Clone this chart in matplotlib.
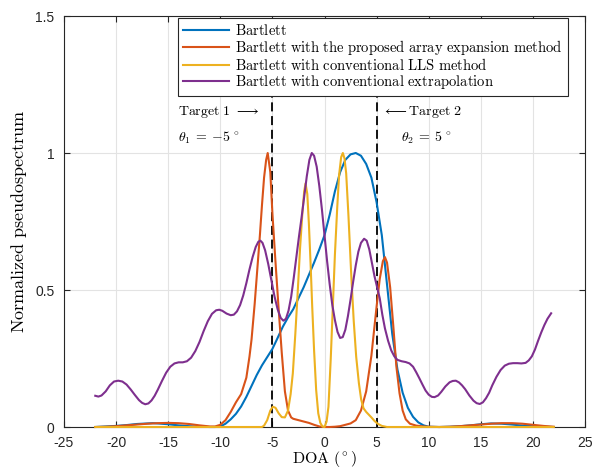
import numpy as np
import matplotlib
matplotlib.use("Agg")
import matplotlib.pyplot as plt

# values (DOA in degrees, normalized level)
blue_x = [-22, -21, -20, -19, -18, -17, -16.5, -16, -15, -14, -13, -12, -11, -10.5, -10, -9.5, -9, -8.5, -8,
          -7.5, -7, -6.5, -6, -5.5, -5, -4.5, -4, -3.5, -3, -2.5, -2, -1.5, -1, -0.5, 0, 0.5, 1, 1.5, 2, 2.5,
          3, 3.5, 4, 4.5, 5, 5.5, 6, 6.5, 7, 7.5, 8, 8.5, 9, 9.5, 10, 11, 12, 13, 14, 15, 16, 17, 18, 19,
          20, 21, 22]
blue_y = [0.0, 0.002, 0.004, 0.007, 0.011, 0.013, 0.014, 0.013, 0.01, 0.006, 0.003, 0.001, 0.0, 0.0, 0.002,
          0.012, 0.028, 0.048, 0.075, 0.11, 0.15, 0.19, 0.225, 0.255, 0.285, 0.325, 0.366, 0.40, 0.43, 0.47,
          0.51, 0.555, 0.60, 0.648, 0.70, 0.775, 0.86, 0.93, 0.975, 0.995, 1.0, 0.99, 0.96, 0.91, 0.82, 0.70,
          0.52, 0.34, 0.21, 0.125, 0.07, 0.037, 0.017, 0.006, 0.001, 0.0, 0.001, 0.003, 0.006, 0.01, 0.013,
          0.012, 0.009, 0.005, 0.003, 0.001, 0.0]

orange_x = [-22, -21, -20, -19, -18, -17, -16, -15, -14, -13, -12, -11, -10.5, -10, -9.5, -9, -8.5, -8, -7.5,
            -7.2, -7.0, -6.7, -6.4, -6.2, -6.0, -5.8, -5.6, -5.45, -5.2, -5.0, -4.7, -4.4, -4.1, -3.8, -3.5,
            -3.2, -3.0, -2.5, -2, -1.5, -1, -0.5, 0, 0.5, 1, 1.5, 2, 2.5, 3, 3.5, 4, 4.5, 5, 5.3, 5.6, 5.8,
            6.0, 6.3, 6.6, 6.9, 7.2, 7.5, 7.8, 8.2, 8.8, 9.5, 10, 11, 12, 13, 14, 15, 16, 17, 18, 19, 20, 21, 22]
orange_y = [0.0, 0.001, 0.003, 0.006, 0.009, 0.012, 0.014, 0.015, 0.014, 0.011, 0.006, 0.002, 0.002, 0.008,
            0.025, 0.055, 0.09, 0.12, 0.18, 0.257, 0.32, 0.45, 0.60, 0.70, 0.81, 0.91, 0.975, 1.0, 0.93, 0.78,
            0.60, 0.43, 0.27, 0.13, 0.06, 0.035, 0.03, 0.025, 0.02, 0.015, 0.008, 0.002, 0.0, 0.0, 0.001, 0.003,
            0.008, 0.013, 0.025, 0.06, 0.13, 0.26, 0.44, 0.54, 0.605, 0.62, 0.60, 0.51, 0.37, 0.22, 0.123,
            0.06, 0.028, 0.012, 0.005, 0.002, 0.001, 0.0, 0.001, 0.003, 0.006, 0.009, 0.012, 0.014, 0.014,
            0.012, 0.008, 0.004, 0.001]

yellow_x = [-22, -6, -5.8, -5.5, -5.2, -4.96, -4.7, -4.4, -4.1, -3.8, -3.5, -3.25, -3.04, -2.8, -2.56, -2.35,
            -2.14, -1.95, -1.82, -1.65, -1.5, -1.34, -1.18, -1.0, -0.8, -0.6, -0.4, -0.2, 0, 0.2, 0.38, 0.6,
            0.8, 1.0, 1.22, 1.4, 1.6, 1.76, 1.92, 2.08, 2.3, 2.56, 2.8, 3.04, 3.3, 3.52, 3.75, 4.0, 4.25, 4.5,
            4.8, 5.1, 5.5, 6, 22]
yellow_y = [0.0, 0.0, 0.005, 0.025, 0.06, 0.074, 0.07, 0.05, 0.036, 0.035, 0.06, 0.12, 0.196, 0.34, 0.5, 0.65,
            0.77, 0.86, 0.889, 0.85, 0.743, 0.6, 0.44, 0.28, 0.135, 0.05, 0.015, 0.002, 0.0, 0.02, 0.074, 0.25,
            0.44, 0.63, 0.80, 0.92, 0.985, 1.0, 0.98, 0.926, 0.77, 0.56, 0.39, 0.257, 0.16, 0.1, 0.068, 0.055,
            0.045, 0.035, 0.022, 0.012, 0.004, 0.0, 0.0]

purple_x = [-22, -21.7, -21.4, -21.0, -20.6, -20.2, -19.8, -19.4, -19.0, -18.6, -18.2, -17.8, -17.5, -17.2,
            -16.9, -16.6, -16.3, -16.0, -15.6, -15.2, -14.8, -14.4, -14.0, -13.6, -13.2, -12.8, -12.4, -12.0,
            -11.6, -11.2, -10.8, -10.4, -10.1, -9.8, -9.4, -9.0, -8.7, -8.4, -8.1, -7.8, -7.5, -7.2, -6.9,
            -6.6, -6.35, -6.15, -5.95, -5.7, -5.4, -5.1, -4.8, -4.5, -4.2, -3.95, -3.7, -3.45, -3.2, -2.95,
            -2.7, -2.45, -2.2, -1.95, -1.7, -1.45, -1.22, -1.0, -0.75, -0.5, -0.25, 0.0, 0.25, 0.5, 0.75, 1.0,
            1.25, 1.5, 1.75, 2.0, 2.25, 2.5, 2.75, 3.0, 3.25, 3.5, 3.8, 4.05, 4.3, 4.55, 4.8, 5.05, 5.3, 5.55,
            5.8, 6.1, 6.4, 6.7, 7.0, 7.4, 7.8, 8.16, 8.5, 8.8, 9.1, 9.4, 9.7, 10.0, 10.3, 10.56, 10.9, 11.2,
            11.6, 12.0, 12.3, 12.6, 12.9, 13.2, 13.5, 13.9, 14.3, 14.6, 14.9, 15.2, 15.5, 15.8, 16.1, 16.5,
            16.9, 17.3, 17.7, 18.1, 18.5, 18.9, 19.3, 19.6, 19.9, 20.2, 20.5, 20.8, 21.1, 21.4, 21.75]
purple_y = [0.114, 0.111, 0.115, 0.13, 0.152, 0.166, 0.169, 0.166, 0.155, 0.137, 0.117, 0.098, 0.088, 0.083,
            0.086, 0.097, 0.114, 0.136, 0.168, 0.198, 0.22, 0.232, 0.236, 0.236, 0.24, 0.253, 0.277, 0.31,
            0.35, 0.386, 0.413, 0.426, 0.428, 0.424, 0.414, 0.408, 0.41, 0.422, 0.445, 0.48, 0.525, 0.575,
            0.62, 0.657, 0.676, 0.68, 0.672, 0.645, 0.595, 0.535, 0.477, 0.43, 0.398, 0.388, 0.395, 0.425,
            0.475, 0.545, 0.62, 0.695, 0.765, 0.84, 0.915, 0.975, 1.0, 0.99, 0.95, 0.88, 0.795, 0.70, 0.605,
            0.52, 0.445, 0.39, 0.347, 0.325, 0.328, 0.355, 0.405, 0.465, 0.53, 0.59, 0.64, 0.672, 0.687, 0.68,
            0.648, 0.6, 0.55, 0.51, 0.47, 0.41, 0.36, 0.315, 0.28, 0.258, 0.245, 0.24, 0.237, 0.232, 0.22,
            0.2, 0.178, 0.155, 0.133, 0.118, 0.11, 0.109, 0.115, 0.128, 0.148, 0.163, 0.168, 0.169, 0.163,
            0.152, 0.138, 0.115, 0.096, 0.087, 0.084, 0.09, 0.105, 0.125, 0.152, 0.183, 0.208, 0.224, 0.231,
            0.233, 0.233, 0.232, 0.234, 0.243, 0.258, 0.283, 0.315, 0.345, 0.372, 0.395, 0.415]

targets = [-5, 5]
labels = ["Bartlett",
          "Bartlett with the proposed array expansion method",
          "Bartlett with conventional LLS method",
          "Bartlett with conventional extrapolation"]
colors = ["#0072BD", "#D95319", "#EDB120", "#7E2F8E"]


def tex(s):
    return r"$\mathrm{" + s.replace(" ", r"\ ") + "}$"


plt.rcParams["mathtext.fontset"] = "cm"
plt.rcParams["font.family"] = ["Liberation Sans", "DejaVu Sans"]
plt.rcParams["axes.unicode_minus"] = False

fig = plt.figure(figsize=(5.95, 4.73), dpi=100)
ax = fig.add_axes([64 / 595, 1 - 427 / 473, 521 / 595, 411 / 473])

series = [(blue_x, blue_y), (orange_x, orange_y), (yellow_x, yellow_y), (purple_x, purple_y)]
for (xs, ys), c, lab in zip(series, colors, labels):
    ax.plot(xs, ys, color=c, lw=1.5, label=tex(lab), clip_on=False, zorder=3)

for t in targets:
    ax.axvline(t, color="black", lw=1.3, dashes=(5, 2.6), zorder=2.5)

ax.text(-14.1, 1.151, tex("Target 1") + r" $\longrightarrow$", fontsize=10, va="center", ha="left")
ax.text(-14.1, 1.054, r"$\theta_1 \:=\: -5\,^\circ$", fontsize=10, va="center", ha="left")
ax.text(5.55, 1.151, r"$\longleftarrow$" + tex("Target 2"), fontsize=10, va="center", ha="left")
ax.text(7.35, 1.054, r"$\theta_2 \:=\: 5\,^\circ$", fontsize=10, va="center", ha="left")

ax.set_xlim(-25, 25)
ax.set_ylim(0, 1.5)
ax.set_xticks(np.arange(-25, 26, 5))
ax.set_yticks([0, 0.5, 1, 1.5])
ax.set_yticklabels(["0", "0.5", "1", "1.5"])
ax.grid(True, color="#e3e3e3", lw=0.8, zorder=0)
ax.set_axisbelow(True)
ax.tick_params(direction="in", length=4, width=0.8, colors="#262626", labelsize=10,
               top=True, right=True, labelcolor="#262626")
ax.tick_params(axis="x", pad=6.5)
ax.tick_params(axis="y", pad=7)
for sp in ax.spines.values():
    sp.set_color("#262626")
    sp.set_linewidth(0.8)

ax.set_xlabel(tex("DOA") + r" $(^\circ)$", fontsize=11.5, labelpad=-1)
ax.set_ylabel(tex("Normalized pseudospectrum"), fontsize=13, labelpad=4)

leg = ax.legend(loc="upper right", bbox_to_anchor=(0.967, 0.995), borderaxespad=0, fontsize=10.5,
                handlelength=3.15, handletextpad=0.43, labelspacing=0.0, borderpad=0.35,
                fancybox=False, framealpha=1, edgecolor="#262626")
leg.get_frame().set_linewidth(0.8)

fig.savefig("out.png", dpi=100)
